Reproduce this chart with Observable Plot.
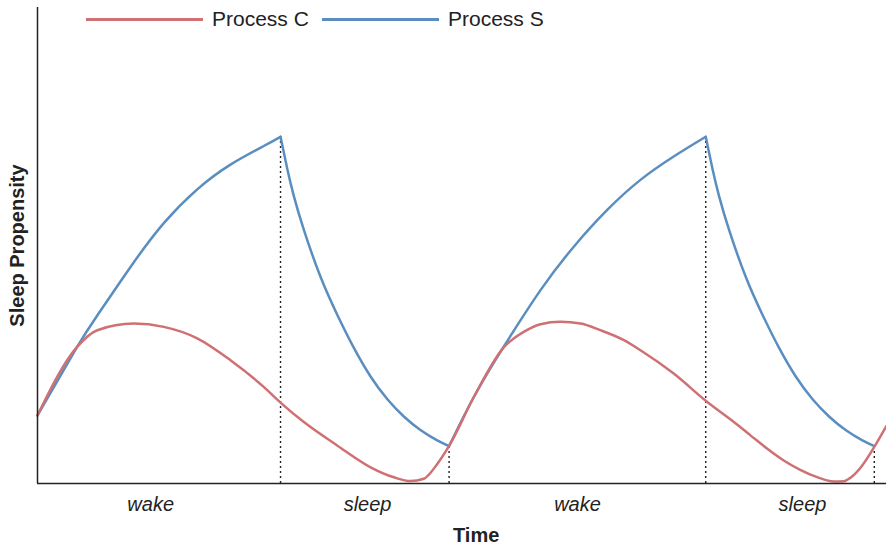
<!DOCTYPE html>
<html>
<head>
<meta charset="utf-8">
<script src="https://cdn.jsdelivr.net/npm/d3@7"></script>
<script src="https://cdn.jsdelivr.net/npm/@observablehq/plot@0.6"></script>
<style>
  html, body { margin: 0; padding: 0; background: #fff; }
  #wrap { position: relative; width: 886px; height: 548px; font-family: "Liberation Sans", Arial, sans-serif; }
  .lg-line { position: absolute; height: 2.5px; width: 117px; top: 18px; }
  .lg-text { position: absolute; top: 6px; font-size: 21px; line-height: 25px; color: #222; white-space: nowrap; }
</style>
</head>
<body>
<div id="wrap">
  <div id="chart"></div>
</div>
<script>
// ---- data (time in hours, sleep propensity in arbitrary units 0-100) ----
const seriesNames = ["Process C", "Process S"];
const seriesColors = ["#cf7073", "#5b8ec0"];

const sTime  = [0, 2.24, 3.38, 5.26, 7.14, 9.03, 10.91, 12.79, 13.74,
                14.12, 14.49, 15.06, 16.00, 16.94, 17.88, 18.83, 19.77, 20.71, 21.65, 22.60, 23.27,
                24.67, 26.36, 28.44, 30.32, 32.21, 34.09, 35.97, 37.78,
                38.16, 38.53, 39.10, 40.04, 40.98, 41.92, 42.87, 43.81, 44.75, 45.69, 46.64, 47.31];
const sValue = [14.3, 28.7, 35.3, 45.5, 54.7, 61.8, 67.0, 70.9, 72.84,
                66.13, 60.44, 53.28, 43.43, 35.52, 28.53, 22.48, 17.75, 14.08, 11.26, 9.07, 7.87,
                18.17, 28.74, 40.63, 49.75, 57.47, 63.79, 68.7, 72.84,
                66.13, 60.44, 53.28, 43.43, 35.52, 28.53, 22.48, 17.75, 14.08, 11.26, 9.07, 7.87];

const cTime  = [0, 2.24, 3.38, 5.44, 7.14, 9.03, 10.91, 12.79, 13.74, 15.06, 16.94, 18.83, 20.15, 21.09, 21.84, 22.60, 23.27,
                24.67, 26.36, 27.49, 28.44, 29.57, 30.70, 31.82, 33.15, 34.09, 35.97, 37.85, 39.37, 40.31, 41.26, 42.19, 43.12, 44.08, 45.02, 45.59, 45.96, 46.53, 47.25, 48.0];
const cValue = [14.3, 28.7, 32.2, 33.6, 32.9, 30.5, 25.9, 20.3, 17.0, 12.9, 8.0, 3.4, 1.3, 0.5, 1.0, 4.1, 7.9,
                18.17, 28.6, 31.85, 33.47, 33.96, 33.62, 32.21, 30.11, 28.0, 23.09, 17.16, 12.91, 10.11, 7.31, 4.84, 2.88, 1.33, 0.42, 0.48, 1.2, 3.31, 7.31, 12.1];

const phaseStart  = [0, 13.74, 23.27, 37.78];
const phaseEnd    = [13.74, 23.27, 37.78, 47.31];
const phaseLabels = ["wake", "sleep", "wake", "sleep"];
const phaseLabelTime = [6.4, 18.66, 30.53, 43.25];

const xLabel = "Time";
const xLabelTime = 24.8;
const yLabel = "Sleep Propensity";

// ---- derived tables ----
const sRows = [];
phaseStart.forEach((start, seg) => {
  sTime.forEach((t, i) => {
    if (t >= start - 1e-9 && t <= phaseEnd[seg] + 1e-9) sRows.push({t, v: sValue[i], seg});
  });
});
const cRows = cTime.map((t, i) => ({t, v: cValue[i]}));
const boundaryRows = phaseEnd.map(t => ({t, v: sValue[sTime.indexOf(t)]}));
const phaseRows = phaseLabels.map((label, i) => ({label, t: phaseLabelTime[i]}));

const chart = Plot.plot({
  width: 886,
  height: 548,
  marginLeft: 37,
  marginRight: 0,
  marginTop: 7,
  marginBottom: 65,
  x: {domain: [0, 48], axis: null},
  y: {domain: [0, 100], axis: null},
  style: {fontFamily: "Liberation Sans, Arial, sans-serif", background: "transparent", overflow: "visible"},
  marks: [
    Plot.ruleX(boundaryRows, {x: "t", y1: 0, y2: "v", stroke: "#222", strokeWidth: 1.4, strokeDasharray: "2,3"}),
    Plot.line(sRows, {x: "t", y: "v", z: "seg", stroke: seriesColors[1], strokeWidth: 2.5, curve: "natural"}),
    Plot.line(cRows, {x: "t", y: "v", stroke: seriesColors[0], strokeWidth: 2.5, curve: "monotone-x"}),
    Plot.ruleX([0], {stroke: "#222", strokeWidth: 1.5}),
    Plot.ruleY([0], {stroke: "#222", strokeWidth: 1.5}),
    Plot.text(phaseRows, {x: "t", text: "label", frameAnchor: "bottom", dy: 21, fontSize: 20, fontStyle: "italic", fill: "#222", lineAnchor: "middle"}),
    Plot.text([xLabel], {x: xLabelTime, text: d => d, frameAnchor: "bottom", dy: 52, fontSize: 20, fontWeight: "bold", fill: "#222", lineAnchor: "middle"}),
    Plot.text([yLabel], {text: d => d, frameAnchor: "left", dx: -20, rotate: -90, fontSize: 20, fontWeight: "bold", fill: "#222", textAnchor: "middle", lineAnchor: "middle"})
  ]
});
document.getElementById("chart").appendChild(chart);

// legend (overlay above the plot)
const wrap = document.getElementById("wrap");
const legendPos = [[86, 212], [322, 448]];
seriesNames.forEach((name, i) => {
  const ln = document.createElement("div");
  ln.className = "lg-line";
  ln.style.left = legendPos[i][0] + "px";
  ln.style.background = seriesColors[i];
  wrap.appendChild(ln);
  const tx = document.createElement("div");
  tx.className = "lg-text";
  tx.style.left = legendPos[i][1] + "px";
  tx.textContent = name;
  wrap.appendChild(tx);
});
</script>
</body>
</html>
